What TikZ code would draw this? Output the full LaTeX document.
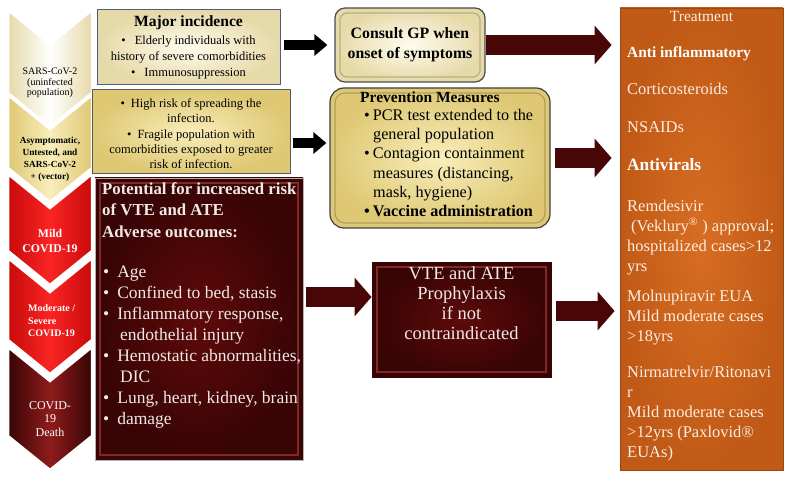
\documentclass[tikz,border=0pt]{standalone}
\usepackage{fontspec}
\setmainfont{Liberation Serif}
\usetikzlibrary{arrows.meta}

\definecolor{maroonbox}{HTML}{5E0A0A}
\definecolor{maroonedge}{HTML}{380404}
\definecolor{maroonline}{HTML}{7E2A2A}
\definecolor{arrowred}{HTML}{480606}
\definecolor{creamin}{HTML}{FFFCEE}
\definecolor{creamout}{HTML}{E6D9A8}
\definecolor{yellowin}{HTML}{F9EEBA}
\definecolor{yellowout}{HTML}{DEC874}
\definecolor{redin}{HTML}{FA2424}
\definecolor{redout}{HTML}{C80A0A}
\definecolor{deathin}{HTML}{8E1C1C}
\definecolor{orangein}{HTML}{D86D22}
\definecolor{orangeout}{HTML}{C05A16}
\definecolor{lighttxt}{HTML}{F1E9E6}
\definecolor{orangetxt}{HTML}{FCEDE2}
\definecolor{incline}{HTML}{4E5E80}

\newcommand{\fsz}[2]{\fontsize{#1}{#2}\selectfont}
\newcommand{\chev}[3]{%
  \path[#3] (8,{#1}) -- (50,{#1+34}) -- (92,{#1}) -- (92,{#2}) -- (50,{#2+34}) -- (8,{#2}) -- cycle;}

\tikzset{
  chevron/.style={draw=white, line width=2.5pt, line join=miter},
  bevel/.style={path picture={\draw[#1, line width=1.2pt] ([shift={(5pt,-5pt)}]path picture bounding box.north west) rectangle ([shift={(-5pt,5pt)}]path picture bounding box.south east);}},
  blkarrow/.style={draw=black, line width=10pt, -{Triangle[length=13pt, width=21pt]}},
  redarrow/.style={draw=arrowred, line width=20pt, -{Triangle[length=17pt, width=38pt]}}
}

\begin{document}
\begin{tikzpicture}[x=1pt, y=-1pt, every node/.style={inner sep=0pt, align=center}]
    \fill[white] (0,0) rectangle (786,478);
    \useasboundingbox (0,0) rectangle (786,478);

    \chev{10}{93}{chevron, left color=creamout, right color=creamout, middle color=white}
    \chev{95}{168}{chevron, left color=yellowout, right color=yellowout, middle color=yellowin}
    \chev{174}{251}{chevron, left color=redout, right color=redout, middle color=redin}
    \chev{258}{340}{chevron, left color=redout, right color=redout, middle color=redin}
    \chev{347}{436}{chevron, left color=maroonedge, right color=maroonedge, middle color=deathin}

    \node[font=\fsz{10}{10.5}] (uninf) at (50,83) {SARS-CoV-2\\(uninfected\\population)};
    \node[font=\fsz{9.3}{12}\bfseries] (asym) at (50,159) {Asymptomatic,\\Untested, and\\SARS-CoV-2\\+ (vector)};
    \node[font=\fsz{11.8}{14.5}\bfseries, text=white] (mild) at (50,241) {Mild\\COVID-19};
    \node[font=\fsz{10}{12.5}\bfseries, text=white, anchor=west, align=left] (modsev) at (28,321) {Moderate /\\Severe\\COVID-19};
    \node[font=\fsz{12}{13.5}, text=white] (death) at (50,419) {COVID-\\19\\Death};

    \node[draw=incline, line width=1pt, inner color=creamin, outer color=creamout, minimum width=183pt, minimum height=75pt, font=\fsz{12.5}{15.5}] (inc) at (188.5,47.5)
        {{\fsz{15.6}{18}\bfseries Major incidence}\\[3pt]\textbullet\hspace{9pt}Elderly individuals with\\history of severe comorbidities\\[1pt]\textbullet\hspace{9pt}Immunosuppression};

    \node[draw=gray!70!black, line width=1pt, inner color=yellowin, outer color=yellowout, minimum width=198pt, minimum height=84pt] (inb) at (191,132) {};
    \node[font=\fsz{12.5}{14.6}] (inbtxt) at (191,133.5)
        {\textbullet\hspace{6pt}High risk of spreading the\\infection.\\[2pt]\textbullet\hspace{6pt}Fragile population with\\comorbidities exposed to greater\\risk of infection.};

    \node[draw=gray!60, line width=0.8pt, inner color=maroonbox, outer color=maroonedge, bevel=maroonline, minimum width=208pt, minimum height=282pt] (risk) at (199,319) {};
    \node[anchor=north west, align=left, text=lighttxt, font=\fsz{16.8}{21.5}\bfseries] (risktop) at (102,182)
        {Potential for increased risk\\of VTE and ATE\\Adverse outcomes:};
    \node[anchor=north west, align=left, text=lighttxt, font=\fsz{17.5}{21}] (risklist) at (103,266)
        {\textbullet\hspace{8pt}Age\\
         \textbullet\hspace{8pt}Confined to bed, stasis\\
         \textbullet\hspace{8pt}Inflammatory response,\\
         \hspace*{17pt}endothelial injury\\
         \textbullet\hspace{8pt}Hemostatic abnormalities,\\
         \hspace*{17pt}DIC\\
         \textbullet\hspace{8pt}Lung, heart, kidney, brain\\
         \textbullet\hspace{8pt}damage};

    \node[draw=gray!60!black, line width=1.2pt, rounded corners=10pt, inner color=creamin, outer color=creamout, bevel={creamout!80!black, rounded corners=7pt}, minimum width=150pt, minimum height=74pt, font=\fsz{15.8}{20}\bfseries] (gp) at (410,45)
        {Consult GP when\\onset of symptoms};

    \node[draw=gray!50!black, line width=1.2pt, rounded corners=14pt, inner color=yellowin, outer color=yellowout, bevel={yellowout!80!black, rounded corners=10pt}, minimum width=220pt, minimum height=140pt] (prev) at (440,158) {};
    \node[anchor=north west, align=left, font=\fsz{16.2}{19.3}] (prevtxt) at (360,92)
        {{\fsz{15.5}{17}\bfseries Prevention Measures}\\[-2pt]
         \hspace*{4pt}\textbullet\hspace{3pt}PCR test extended to the\\
         \hspace*{13pt}general population\\
         \hspace*{4pt}\textbullet\hspace{3pt}Contagion containment\\
         \hspace*{13pt}measures (distancing,\\
         \hspace*{13pt}mask, hygiene)\\
         \hspace*{4pt}\textbf{\textbullet\hspace{3pt}Vaccine administration}};

    \node[draw=maroonedge, line width=1pt, inner color=maroonbox, outer color=maroonedge, bevel=maroonline, minimum width=179pt, minimum height=115pt] (vte) at (461.5,319.5) {};
    \node[text=lighttxt, font=\fsz{18.5}{20.2}] (vtetxt) at (461.5,303) {VTE and ATE\\Prophylaxis\\if not\\contraindicated};

    \node[draw=orangeout!80!black, line width=0.8pt, inner color=orangein, outer color=orangeout, minimum width=163pt, minimum height=462pt] (treat) at (701.5,239) {};
    \node[text=orangetxt, font=\fsz{15.5}{18}] (treathd) at (701.5,17) {Treatment};
    \node[anchor=north west, text=white, font=\fsz{15.4}{18}\bfseries] (antiinf) at (627,46) {Anti inflammatory};
    \node[anchor=north west, text=orangetxt, font=\fsz{16.5}{20}] (cortico) at (627,83) {Corticosteroids};
    \node[anchor=north west, text=orangetxt, font=\fsz{16.5}{20}] (nsaid) at (627,121) {NSAIDs};
    \node[anchor=north west, text=white, font=\fsz{17.3}{20}\bfseries] (antivir) at (627,158) {Antivirals};
    \node[anchor=north west, align=left, text=orangetxt, font=\fsz{16.5}{20}] (remdes) at (627,200)
        {Remdesivir\\\hspace*{4pt}(Veklury\textsuperscript{®} ) approval;\\hospitalized cases>12\\yrs};
    \node[anchor=north west, align=left, text=orangetxt, font=\fsz{16.5}{20}] (molnu) at (627,290)
        {Molnupiravir EUA\\Mild moderate cases\\>18yrs};
    \node[anchor=north west, align=left, text=orangetxt, font=\fsz{16.5}{20}] (nirma) at (627,366)
        {Nirmatrelvir/Ritonavi\\r\\Mild moderate cases\\>12yrs (Paxlovid®\\EUAs)};

    \draw[blkarrow, shorten <=3pt, shorten >=7pt] (inc.east |- gp.west) -- (gp.west);
    \coordinate (spread) at ([yshift=-11pt]inb.east);
    \draw[blkarrow, shorten <=2pt, shorten >=3pt] (spread) -- (spread -| prev.west);
    \draw[redarrow, shorten >=8pt] (gp.east) -- (gp.east -| treat.west);
    \draw[redarrow, shorten <=4pt, shorten >=8pt] (prev.east) -- (prev.east -| treat.west);
    \coordinate (riskout) at ([yshift=22pt]risk.east);
    \draw[redarrow, shorten <=3pt] (riskout) -- (riskout -| vte.west);
    \coordinate (vteout) at ([yshift=8.5pt]vte.east);
    \draw[redarrow, shorten <=4pt, shorten >=5pt] (vteout) -- (vteout -| treat.west);
\end{tikzpicture}
\end{document}
